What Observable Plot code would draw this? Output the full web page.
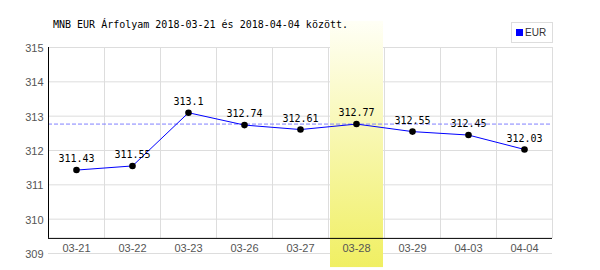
<!DOCTYPE html>
<html>
<head>
<meta charset="utf-8">
<script src="https://cdn.jsdelivr.net/npm/d3@7"></script>
<script src="https://cdn.jsdelivr.net/npm/@observablehq/plot@0.6"></script>
<style>
  body { margin: 0; background: white; }
  #wrap { position: relative; width: 600px; height: 270px; }
  #title { position: absolute; left: 53px; top: 19px; font: 10px "DejaVu Sans Mono", monospace; line-height: 12px; color: #000; white-space: nowrap; }
  #legend { position: absolute; left: 511px; top: 22px; width: 40px; height: 19px; border: 1px solid #ddd; background: white; box-sizing: content-box; }
  #legend .sw { position: absolute; left: 4px; top: 6px; width: 7px; height: 7px; background: #0000ff; }
  #legend .lb { position: absolute; left: 13px; top: 4px; font: 10px "Liberation Sans", sans-serif; line-height: 11px; color: #333; }
</style>
</head>
<body>
<div id="wrap">
  <div id="chart"></div>
  <div id="title"></div>
  <div id="legend"><div class="sw"></div><div class="lb"></div></div>
</div>
<script>
const dates = ["03-21", "03-22", "03-23", "03-26", "03-27", "03-28", "03-29", "04-03", "04-04"];
const rates = [311.43, 311.55, 313.1, 312.74, 312.61, 312.77, 312.55, 312.45, 312.03];
const yTicks = [309, 310, 311, 312, 313, 314, 315];
const highlightDate = "03-28";
const refValue = 312.77;
const axisBase = 309.44;
const bandTop = 315.76;
const bandBottom = 308.59;
const titleText = "MNB EUR Árfolyam 2018-03-21 és 2018-04-04 között.";
const seriesName = "EUR";

document.getElementById("title").textContent = titleText;
document.querySelector("#legend .lb").textContent = seriesName;

const data = dates.map((d, i) => ({date: d, i, rate: rates[i]}));
const n = dates.length;
const hl = dates.indexOf(highlightDate);
const cx = d => d.i + 0.5;

const chart = Plot.plot({
  width: 600,
  height: 270,
  marginLeft: 48,
  marginRight: 48,
  marginTop: 47,
  marginBottom: 17,
  x: {type: "linear", domain: [0, n], axis: null, label: null},
  y: {domain: [309, 315], axis: null, label: null},
  style: {background: "white", fontFamily: "'Liberation Sans', sans-serif", fontSize: "11px"},
  marks: [
    Plot.gridY(yTicks, {stroke: "#dddddd", strokeOpacity: 1}),
    Plot.ruleX(d3.range(1, n + 1), {y1: axisBase, y2: 315, stroke: "#dddddd"}),
    Plot.rect([hl], {x1: d => d, x2: d => d + 1, y1: bandBottom, y2: bandTop, fill: "url(#hlgrad)", insetLeft: 2, insetRight: 1}),
    Plot.ruleY([refValue], {stroke: "#8080ff", strokeDasharray: "4,2"}),
    Plot.ruleX([0], {y1: axisBase, y2: 315, stroke: "black"}),
    Plot.ruleY([axisBase], {stroke: "black"}),
    Plot.line(data, {x: cx, y: "rate", stroke: "#0000ff", strokeWidth: 1}),
    Plot.dot(data, {x: cx, y: "rate", r: 3.3, fill: "black", stroke: null}),
    Plot.text(data, {x: cx, y: "rate", text: d => String(d.rate), dy: -11, fill: "black",
      fontFamily: "'DejaVu Sans Mono', monospace", fontSize: 10}),
    Plot.axisY(yTicks, {tickSize: 0, tickPadding: 5, fill: "#555", fontSize: 11, dy: 1, label: null}),
    Plot.axisX(data.map(cx), {tickSize: 0, tickPadding: 0, tickFormat: d => dates[Math.floor(d)],
      lineAnchor: "middle", dy: -5, fill: "#555", fontSize: 11, label: null})
  ]
});

d3.select(chart).insert("defs", ":first-child").html(
  '<linearGradient id="hlgrad" x1="0" y1="0" x2="0" y2="1">' +
  '<stop offset="0" stop-color="#fffff6"/><stop offset="1" stop-color="#f0ef62"/></linearGradient>'
);

document.getElementById("chart").appendChild(chart);
</script>
</body>
</html>
